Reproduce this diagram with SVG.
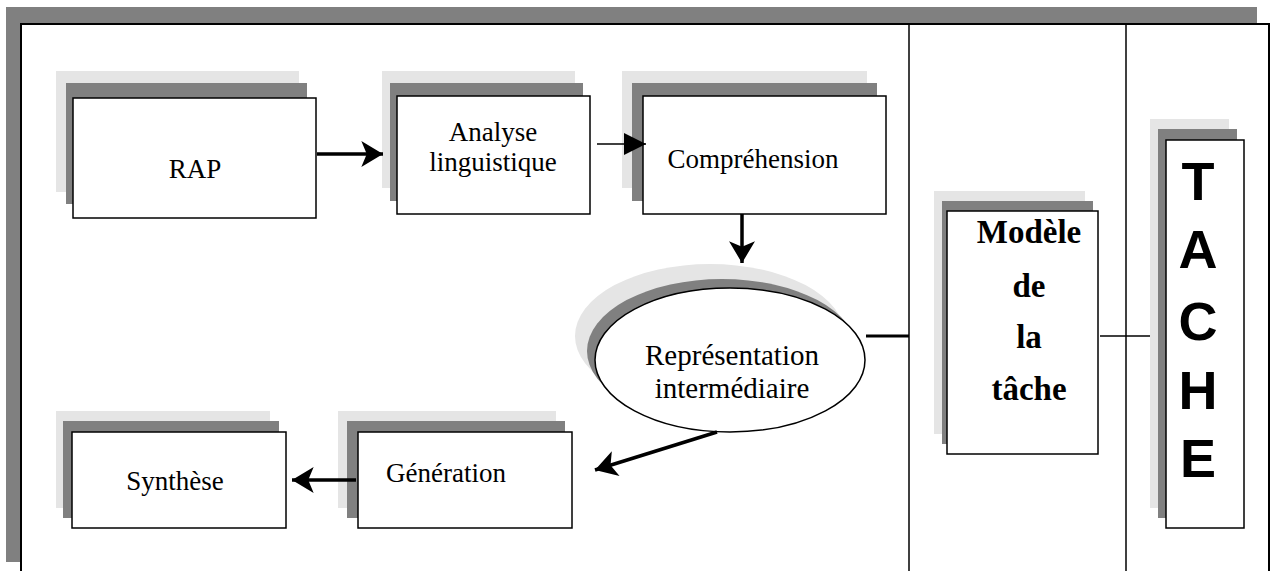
<svg xmlns="http://www.w3.org/2000/svg" width="1270" height="571" viewBox="0 0 1270 571">
<style>
.lt{fill:#e5e5e5}
.dk{fill:#808080}
.bx{fill:#fff;stroke:#000;stroke-width:1.5}
.t{font-family:"Liberation Serif","Times New Roman",serif;font-size:27px;fill:#000;text-anchor:middle}
.tr{font-size:29px}
.tb{font-family:"Liberation Serif","Times New Roman",serif;font-size:33px;font-weight:bold;fill:#000;text-anchor:middle}
.ts{font-family:"Liberation Sans",Arial,sans-serif;font-size:54px;font-weight:bold;fill:#000;text-anchor:middle}
.c{stroke:#000;fill:none}
</style>
<defs>
<marker id="ah" markerUnits="userSpaceOnUse" markerWidth="26" markerHeight="26" viewBox="0 0 20 24" refX="20" refY="12" orient="auto">
<path d="M0,0 L20,12 L0,24 L5,12 Z" fill="#000"/>
</marker>
<marker id="at" markerUnits="userSpaceOnUse" markerWidth="22" markerHeight="22" viewBox="0 0 21 21" refX="21" refY="10.5" orient="auto">
<path d="M0,0 L21,10.5 L0,21 Z" fill="#000"/>
</marker>
</defs>
<g id="frame">
<path d="M6,7 H1257 V23 H21 V562 H6 Z" class="dk"/>
<path d="M21,571 V24 H1269 V571" fill="none" stroke="#000" stroke-width="2"/>
<line x1="909" y1="24" x2="909" y2="571" stroke="#000" stroke-width="1.5"/>
<line x1="1126" y1="24" x2="1126" y2="571" stroke="#000" stroke-width="1.5"/>
</g>
<g id="rap">
<rect class="lt" x="56" y="71" width="243" height="121"/>
<rect class="dk" x="66" y="83" width="241" height="121"/>
<rect class="bx" x="73" y="98" width="243" height="120"/>
<text class="t" x="195" y="178">RAP</text>
</g>
<g id="analyse">
<rect class="lt" x="382" y="71" width="193" height="117"/>
<rect class="dk" x="390" y="83" width="193" height="118"/>
<rect class="bx" x="397" y="96" width="193" height="118"/>
<text class="t" x="493" y="141">Analyse</text>
<text class="t" x="493" y="171">linguistique</text>
</g>
<g id="comprehension">
<rect class="lt" x="622" y="71" width="245" height="117"/>
<rect class="dk" x="632" y="83" width="245" height="118"/>
<rect class="bx" x="643" y="96" width="243" height="118"/>
<text class="t" x="753" y="168">Compréhension</text>
</g>
<g id="representation">
<ellipse class="lt" cx="710" cy="336" rx="135" ry="72"/>
<ellipse class="dk" cx="722" cy="351" rx="135" ry="72"/>
<ellipse class="bx" cx="730" cy="360" rx="135" ry="72"/>
<text class="t tr" x="732" y="365">Représentation</text>
<text class="t tr" x="732" y="398">intermédiaire</text>
</g>
<g id="generation">
<rect class="lt" x="338" y="411" width="218" height="97"/>
<rect class="dk" x="347" y="421" width="218" height="97"/>
<rect class="bx" x="358" y="432" width="214" height="96"/>
<text class="t" x="446" y="482">Génération</text>
</g>
<g id="synthese">
<rect class="lt" x="56" y="411" width="214" height="97"/>
<rect class="dk" x="63" y="421" width="216" height="97"/>
<rect class="bx" x="72" y="432" width="214" height="96"/>
<text class="t" x="175" y="490">Synthèse</text>
</g>
<g id="modele">
<rect class="lt" x="934" y="191" width="151" height="243"/>
<rect class="dk" x="942" y="201" width="151" height="243"/>
<rect class="bx" x="947" y="211" width="151" height="243"/>
<text class="tb" x="1029" y="243">Modèle</text>
<text class="tb" x="1029" y="297">de</text>
<text class="tb" x="1029" y="348">la</text>
<text class="tb" x="1029" y="400">tâche</text>
</g>
<g id="tache">
<rect class="lt" x="1150" y="119" width="79" height="389"/>
<rect class="dk" x="1158" y="129" width="79" height="389"/>
<rect class="bx" x="1166" y="140" width="78" height="388"/>
<text class="ts" x="1198" y="200">T</text>
<text class="ts" x="1198" y="268">A</text>
<text class="ts" x="1198" y="340">C</text>
<text class="ts" x="1198" y="409">H</text>
<text class="ts" x="1198" y="477">E</text>
</g>
<g id="connectors">
<line class="c" x1="317" y1="154" x2="383" y2="154" stroke-width="3.5" marker-end="url(#ah)"/>
<line class="c" x1="597" y1="144" x2="646" y2="144" stroke-width="1.5" marker-end="url(#at)"/>
<line class="c" x1="742" y1="214" x2="742" y2="263" stroke-width="3.5" marker-end="url(#ah)"/>
<line class="c" x1="717" y1="432" x2="595" y2="470" stroke-width="3.5" marker-end="url(#ah)"/>
<line class="c" x1="356" y1="480" x2="292" y2="480" stroke-width="3.5" marker-end="url(#ah)"/>
<line class="c" x1="866" y1="336" x2="909" y2="336" stroke-width="3"/>
<line class="c" x1="1100" y1="336" x2="1150" y2="336" stroke-width="1.5"/>
</g>
</svg>
